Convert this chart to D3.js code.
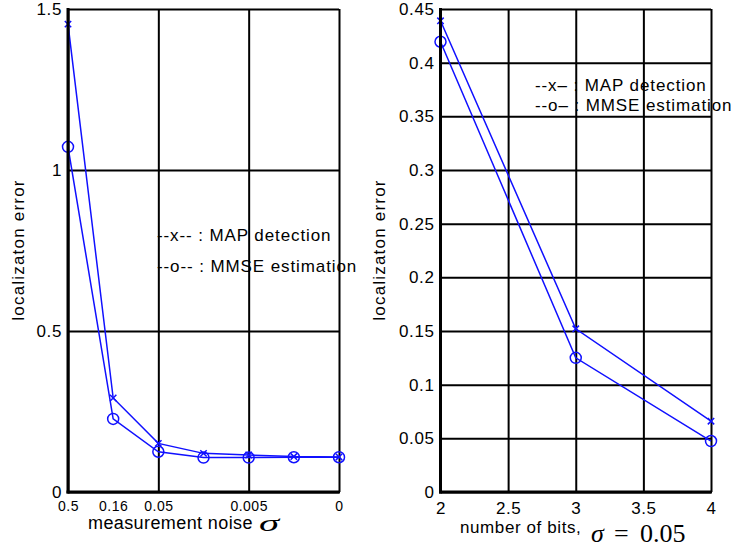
<!DOCTYPE html>
<html>
<head>
<meta charset="utf-8">
<script src="https://cdn.jsdelivr.net/npm/d3@7"></script>
<style>
  html, body { margin: 0; padding: 0; background: #fff; }
  svg { display: block; }
  text { font-family: "Liberation Sans", Arial, Helvetica, sans-serif; fill: #000; }
</style>
</head>
<body>
<svg id="chart" width="744" height="550"></svg>
<script>
// ---------- data ----------
const sigmaIndex   = [0, 1, 2, 3, 4, 5, 6];
const sigmaLabels  = ["0.5", "0.16", "0.05", "", "0.005", "", "0"];
const leftMAP      = [1.453, 0.292, 0.151, 0.120, 0.115, 0.110, 0.109];
const leftMMSE     = [1.072, 0.227, 0.125, 0.107, 0.107, 0.108, 0.108];
const leftYTicks   = [0, 0.5, 1, 1.5];
const leftYLabels  = ["0", "0.5", "1", "1.5"];
const leftGridX    = [0, 2, 4, 6];

const bits         = [2, 3, 4];
const rightMAP     = [0.439, 0.152, 0.066];
const rightMMSE    = [0.4195, 0.125, 0.0475];
const rightXTicks  = [2, 2.5, 3, 3.5, 4];
const rightXLabels = ["2", "2.5", "3", "3.5", "4"];
const rightYTicks  = [0, 0.05, 0.1, 0.15, 0.2, 0.25, 0.3, 0.35, 0.4, 0.45];
const rightYLabels = ["0", "0.05", "0.1", "0.15", "0.2", "0.25", "0.3", "0.35", "0.4", "0.45"];

const legendLeft   = ["--x-- : MAP detection", "--o-- : MMSE estimation"];
const legendRight  = ["--x\u2013 : MAP detection", "--o\u2013 : MMSE estimation"];
const yTitle       = "localizaton error";

// ---------- setup ----------
const svg = d3.select("#chart");
svg.append("rect").attr("width", 744).attr("height", 550).attr("fill", "#fff");
const blue = "#1010ff";

const plotTop = 9, plotBottom = 492;
const xL = d3.scaleLinear().domain([0, 6]).range([68, 339]);
const yL = d3.scaleLinear().domain([0, 1.5]).range([plotBottom, plotTop]);
const xR = d3.scaleLinear().domain([2, 4]).range([440.5, 711]);
const yR = d3.scaleLinear().domain([0, 0.45]).range([plotBottom, plotTop]);

function drawPanel(g, x, y, opts) {
  // legend text (grid is drawn over it, as in the reference)
  const leg = g.append("g");
  opts.legend.forEach((t, i) => {
    leg.append("text")
      .attr("x", opts.legX).attr("y", opts.legY + i * opts.legDy)
      .attr("font-size", opts.legFont).attr("letter-spacing", "0.9px")
      .text(t);
  });

  // vertical grid
  const gx = g.append("g").attr("transform", `translate(0,${plotBottom})`)
    .call(d3.axisBottom(x).tickValues(opts.gridX).tickSize(-(plotBottom - plotTop)).tickFormat(""));
  gx.select(".domain").remove();
  gx.selectAll("line").attr("stroke", "#000").attr("stroke-width", 2);

  // horizontal grid + y labels
  const gy = g.append("g").attr("transform", `translate(${x.range()[0]},0)`)
    .call(d3.axisLeft(y).tickValues(opts.yTicks).tickSize(-(x.range()[1] - x.range()[0]))
      .tickPadding(6).tickFormat((d, i) => opts.yLabels[i]));
  gy.select(".domain").remove();
  gy.selectAll("line").attr("stroke", "#000").attr("stroke-width", 2);
  gy.selectAll("text").attr("font-size", 17).attr("letter-spacing", "0.6px")
    .style("font-family", '"Liberation Sans", Arial, sans-serif');

  // x labels
  const gxl = g.append("g").attr("transform", `translate(0,${plotBottom})`)
    .call(d3.axisBottom(x).tickValues(opts.xTicks).tickSize(0).tickPadding(opts.xPad)
      .tickFormat((d, i) => opts.xLabels[i]));
  gxl.select(".domain").remove();
  gxl.selectAll("text").attr("font-size", opts.xFont).attr("letter-spacing", "0.5px")
    .style("font-family", '"Liberation Sans", Arial, sans-serif');

  // data lines
  const line = d3.line().x(d => x(d[0])).y(d => y(d[1]));
  [opts.map, opts.mmse].forEach(series => {
    g.append("path").datum(opts.xs.map((v, i) => [v, series[i]]))
      .attr("d", line).attr("fill", "none").attr("stroke", blue).attr("stroke-width", 1.5);
  });
  // x markers
  const s = 3.2;
  g.append("g").selectAll("path").data(opts.xs.map((v, i) => [v, opts.map[i]])).join("path")
    .attr("d", d => `M${x(d[0]) - s},${y(d[1]) - s}L${x(d[0]) + s},${y(d[1]) + s}M${x(d[0]) - s},${y(d[1]) + s}L${x(d[0]) + s},${y(d[1]) - s}`)
    .attr("stroke", blue).attr("stroke-width", 1.5).attr("fill", "none");
  // o markers
  g.append("g").selectAll("circle").data(opts.xs.map((v, i) => [v, opts.mmse[i]])).join("circle")
    .attr("cx", d => x(d[0])).attr("cy", d => y(d[1])).attr("r", 5.5)
    .attr("stroke", blue).attr("stroke-width", 1.5).attr("fill", "none");

  // axis lines (left & bottom, thicker)
  const x0 = x.range()[0], x1 = x.range()[1];
  g.append("line").attr("x1", x0).attr("x2", x0).attr("y1", plotTop - 1).attr("y2", plotBottom + 1.5)
    .attr("stroke", "#000").attr("stroke-width", 3);
  g.append("line").attr("x1", x0 - 1.5).attr("x2", x1 + 1).attr("y1", plotBottom).attr("y2", plotBottom)
    .attr("stroke", "#000").attr("stroke-width", 3);

  // y title
  g.append("text")
    .attr("transform", `translate(${opts.yTitleX},250) rotate(-90)`)
    .attr("text-anchor", "middle").attr("font-size", 17).attr("letter-spacing", "1.2px")
    .text(yTitle);
}

drawPanel(svg.append("g"), xL, yL, {
  xs: sigmaIndex, map: leftMAP, mmse: leftMMSE,
  gridX: leftGridX, yTicks: leftYTicks, yLabels: leftYLabels,
  xTicks: sigmaIndex.filter((d, i) => sigmaLabels[i] !== ""),
  xLabels: sigmaLabels.filter(d => d !== ""),
  xFont: 14, xPad: 9,
  legend: legendLeft, legX: 157, legY: 241, legDy: 31, legFont: 17,
  yTitleX: 24
});

drawPanel(svg.append("g"), xR, yR, {
  xs: bits, map: rightMAP, mmse: rightMMSE,
  gridX: rightXTicks, yTicks: rightYTicks, yLabels: rightYLabels,
  xTicks: rightXTicks, xLabels: rightXLabels,
  xFont: 17, xPad: 10,
  legend: legendRight, legX: 535, legY: 91, legDy: 20, legFont: 17,
  yTitleX: 385
});

// x titles
svg.append("text").attr("x", 88).attr("y", 529).attr("font-size", 18).attr("letter-spacing", "0.4px")
  .text("measurement noise");
svg.append("text").attr("transform", "translate(259,531) scale(1.7,1)")
  .attr("font-size", 24).attr("font-style", "italic")
  .style("font-family", '"Liberation Serif", "Times New Roman", serif').text("σ");

svg.append("text").attr("x", 460).attr("y", 533).attr("font-size", 17).attr("letter-spacing", "0.6px")
  .text("number of bits,");
const t2 = svg.append("text").attr("y", 542).attr("font-size", 26)
  .style("font-family", '"Liberation Serif", "Times New Roman", serif');
t2.append("tspan").attr("x", 591).attr("font-style", "italic").text("σ");
t2.append("tspan").attr("x", 614).text("=");
t2.append("tspan").attr("x", 640).text("0.05");
</script>
</body>
</html>
